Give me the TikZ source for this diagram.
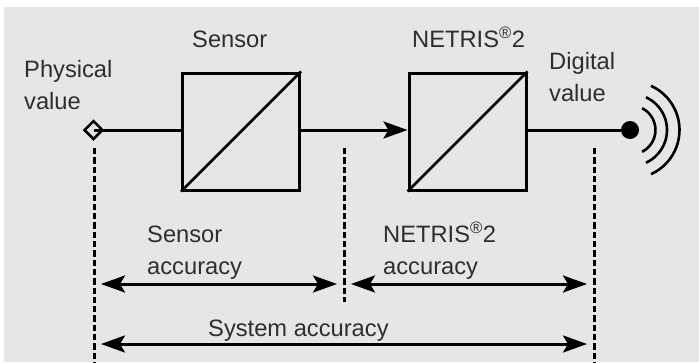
\documentclass[tikz,border=0pt]{standalone}
\usepackage{fontspec}
\setmainfont{Liberation Sans}
\usetikzlibrary{arrows.meta,shapes.geometric}
\definecolor{panelgray}{HTML}{E5E6E8}
\definecolor{labelgray}{HTML}{2E2E2E}
\tikzset{convbox/.style={draw,line width=3pt,minimum size=117pt,inner sep=0pt},
  lab/.style={anchor=north west,inner sep=0pt,align=left,text=labelgray,font=\fontsize{23.7}{32}\selectfont},
  wire/.style={line width=3pt},
  dashline/.style={line width=3pt,dash pattern=on 6.3pt off 3pt},
  >={Stealth[length=24pt,width=17pt,inset=5pt]}}

\begin{document}
\begin{tikzpicture}[x=1pt,y=-1pt]
          \useasboundingbox (0,0) rectangle (699,362);
          \fill[panelgray] (4,7) rectangle (699,362);

          \node[convbox] (sensor) at (241,131.5) {};
          \node[convbox] (netris) at (467.5,131.5) {};
          \node[draw,diamond,line width=2.5pt,minimum size=19pt,inner sep=0pt] (input) at (93.5,130) {};
          \node[circle,fill,minimum size=18pt,inner sep=0pt] (output) at (630,130) {};

          \draw[line width=2.5pt] (sensor.south west) -- (sensor.north east);
          \draw[line width=2.5pt] (netris.south west) -- (netris.north east);

          \draw[wire] (input.center) -- (input.center -| sensor.west);
          \draw[wire,->] (sensor.east |- output) -- (netris.west |- output);
          \draw[wire] (netris.east |- output) -- (output);

          \foreach \r/\a in {24.5/63,36/65.4,48.5/65.6}
            \draw[line width=2.6pt] ([xshift=1pt]output.center) ++(-\a:\r pt) arc[start angle=-\a,end angle=\a,radius=\r pt];

          % dashed guides
          \coordinate (guideA) at (94,148);
          \coordinate (guideB) at (344,148);
          \coordinate (guideC) at (594,148);
          \coordinate (guideAend) at (94,362);
          \coordinate (guideBend) at (344,302);
          \coordinate (guideCend) at (594,362);
          \draw[dashline] (guideA) -- (guideAend);
          \draw[dashline] (guideB) -- (guideBend);
          \draw[dashline] (guideC) -- (guideCend);

          % accuracy arrows
          \coordinate (sensL) at (101,284);
          \coordinate (sensR) at (337,284);
          \coordinate (netL) at (351,284);
          \coordinate (netR) at (587,284);
          \coordinate (sysL) at (101,344);
          \coordinate (sysR) at (587,344);
          \draw[wire,<->] (sensL) -- (sensR);
          \draw[wire,<->] (netL) -- (netR);
          \draw[wire,<->] (sysL) -- (sysR);

          \node[lab] (physlabel) at (24,59.7) {Physical\\value};
          \node[lab] (senslabel) at (192,30.7) {Sensor};
          \node[lab] (netlabel) at (412,31) {NETRIS\smash{\textsuperscript{®}}2};
          \node[lab] (diglabel) at (549,51.7) {Digital\\value};
          \node[lab] (sensacc) at (147,225.7) {Sensor\\accuracy};
          \node[lab] (netacc) at (383,226) {NETRIS\smash{\textsuperscript{®}}2\\accuracy};
          \node[lab] (sysacc) at (208,320) {System accuracy};
        \end{tikzpicture}
\end{document}
